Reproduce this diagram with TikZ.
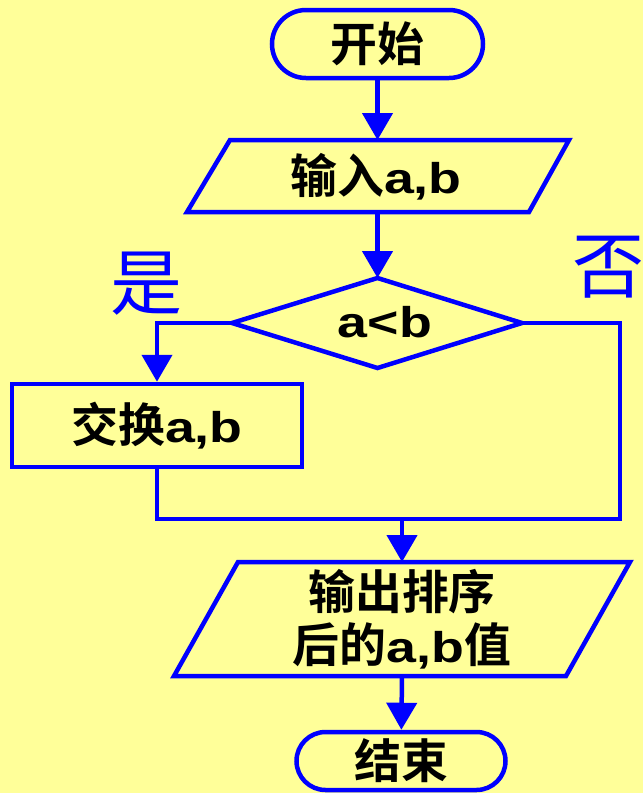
\documentclass[tikz,border=0pt]{standalone}
\usepackage{fontspec}
\setmainfont{Liberation Sans}[FakeStretch=1.25]
\newfontfamily\cjk{Noto Sans CJK SC}[Scale=1.09,BoldFont={Noto Sans CJK SC Bold}]
\newfontfamily\cjklabel{Noto Sans CJK SC}
\usetikzlibrary{arrows.meta,shapes.misc}
\definecolor{bgyellow}{RGB}{255,255,153}
\definecolor{fblue}{RGB}{0,0,255}
\begin{document}
\begin{tikzpicture}[x=1pt,y=-1pt,
  ln/.style={draw=fblue,line width=4.5pt},
  arr/.style={ln,-{Triangle[width=30pt,length=27pt]}},
  txt/.style={font=\bfseries\fontsize{43}{53}\selectfont,text=black,inner sep=0pt,align=center},
  term/.style={ln,rounded rectangle,txt},
  procbox/.style={ln,rectangle,txt},
  lbl/.style={font=\cjklabel\fontsize{72}{72}\selectfont,text=fblue,inner sep=0pt}]
\fill[bgyellow] (0,0) rectangle (643,793);
% start
\node[term,minimum width=211pt,minimum height=68pt] (start) at (377.5,44) {{\cjk 开始}};
% input
\coordinate (inTL) at (230,140); \coordinate (inTR) at (569,140);
\coordinate (inBR) at (529,212); \coordinate (inBL) at (187,212);
\draw[ln] (inTL) -- (inTR) -- (inBR) -- (inBL) -- cycle;
\coordinate (inT) at (377.5,140); \coordinate (inB) at (377.5,212);
\node[txt] (input) at (376,177) {{\cjk 输入}a,b};
% condition
\coordinate (dT) at (377.5,278); \coordinate (dR) at (522,323);
\coordinate (dB) at (377.5,368); \coordinate (dL) at (232,323);
\draw[ln] (dT) -- (dR) -- (dB) -- (dL) -- cycle;
\node[txt] (cond) at (385,322) {a<b};
% swap
\node[procbox,minimum width=290pt,minimum height=83pt] (swap) at (157,425.5) {{\cjk 交换}a,b};
% output
\coordinate (oTL) at (238,562); \coordinate (oTR) at (630,562);
\coordinate (oBR) at (566,676); \coordinate (oBL) at (174,676);
\draw[ln] (oTL) -- (oTR) -- (oBR) -- (oBL) -- cycle;
\coordinate (oT) at (402,562); \coordinate (oB) at (402,676);
\node[txt] (output) at (402,619) {{\cjk 输出排序}\\{\cjk 后的}a,b{\cjk 值}};
% stop
\node[term,minimum width=209pt,minimum height=58pt] (stop) at (401,761) {{\cjk 结束}};
% labels
\node[lbl] (yes) at (146,284) {是};
\node[lbl] (no) at (608,267) {否};
% connectors
\coordinate (mergeR) at (620,519);
\coordinate (merge) at (402,519);
\draw[arr] (start) -- (inT);
\draw[arr] (inB) -- (dT);
\draw[arr] (dL) -| (swap);
\draw[ln] (swap.south) |- (mergeR) |- (dR);
\draw[arr] (merge) -- (oT);
\draw[arr] (oB) -- (stop);
\end{tikzpicture}
\end{document}
